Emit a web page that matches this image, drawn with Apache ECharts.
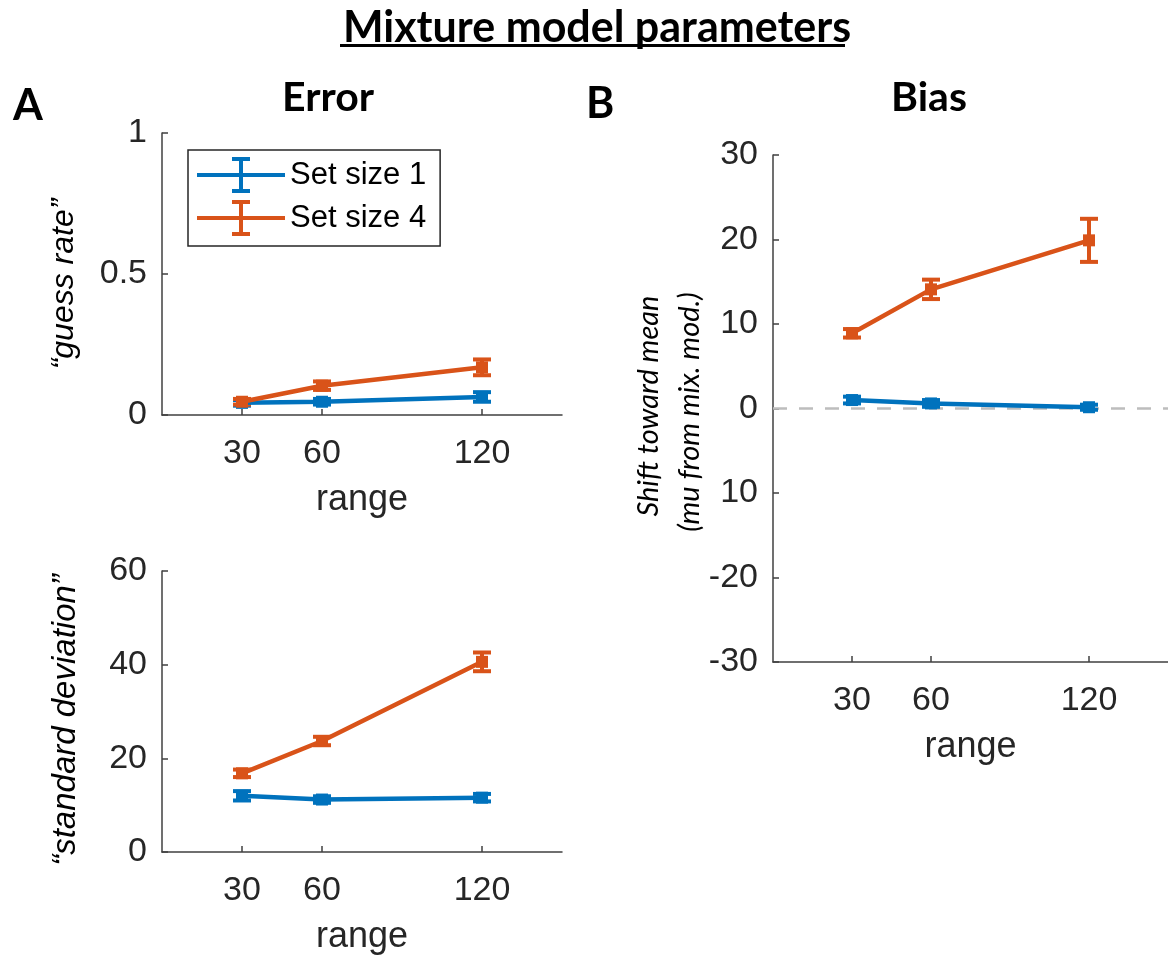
<!DOCTYPE html>
<html>
<head>
<meta charset="utf-8">
<script src="https://cdn.jsdelivr.net/npm/echarts@6/dist/echarts.min.js"></script>
<style>
html,body{margin:0;padding:0;background:#fff;}
#chart{width:1168px;height:960px;}
</style>
</head>
<body>
<div id="chart"></div>
<script>
// ---- data ----
const ranges = [30, 60, 120];
const seriesNames = ['Set size 1', 'Set size 4'];

const guessSS1 = [0.043, 0.047, 0.064];
const guessSS1Err = [0.010, 0.010, 0.017];
const guessSS4 = [0.047, 0.104, 0.169];
const guessSS4Err = [0.010, 0.015, 0.028];

const sdSS1 = [12.0, 11.2, 11.6];
const sdSS1Err = [1.0, 0.7, 0.8];
const sdSS4 = [16.8, 23.7, 40.6];
const sdSS4Err = [0.8, 0.9, 2.0];

const biasSS1 = [1.0, 0.6, 0.15];
const biasSS1Err = [0.4, 0.4, 0.3];
const biasSS4 = [8.9, 14.1, 19.9];
const biasSS4Err = [0.5, 1.15, 2.55];

const xTicks = [30, 60, 120];
const guessTicks = [0, 0.5, 1];
const guessTickLabels = ['0', '0.5', '1'];
const sdTicks = [0, 20, 40, 60];
const sdTickLabels = ['0', '20', '40', '60'];
const biasTicks = [-30, -20, -10, 0, 10, 20, 30];
const biasTickLabels = ['-30', '-20', '10', '0', '10', '20', '30'];

// ---- style ----
const BLUE = '#0072BD';
const ORANGE = '#D95319';
const AXIS = '#404040';
const TXT = '#262626';
const LAB_FONT = 'Liberation Sans';

const chart = echarts.init(document.getElementById('chart'));

function pts(vals) { return ranges.map((x, i) => [x, vals[i]]); }
function errs(vals, e) { return ranges.map((x, i) => [x, vals[i] - e[i], vals[i] + e[i]]); }

function renderErr(params, api) {
  const x = api.value(0), lo = api.value(1), hi = api.value(2);
  const a = api.coord([x, hi]), b = api.coord([x, lo]);
  const hw = 9;
  const st = { stroke: api.visual('color'), lineWidth: 4 };
  return { type: 'group', children: [
    { type: 'line', shape: { x1: a[0], y1: a[1], x2: b[0], y2: b[1] }, style: st },
    { type: 'line', shape: { x1: a[0] - hw, y1: a[1], x2: a[0] + hw, y2: a[1] }, style: st },
    { type: 'line', shape: { x1: b[0] - hw, y1: b[1], x2: b[0] + hw, y2: b[1] }, style: st }
  ]};
}

function xAxisFor(gi) {
  return {
    type: 'value', gridIndex: gi, min: 0, max: 150,
    name: 'range', nameLocation: 'middle', nameGap: 67,
    nameTextStyle: { fontFamily: LAB_FONT, fontSize: 36, color: TXT },
    axisLine: { show: true, onZero: false, lineStyle: { color: AXIS, width: 1.5 } },
    axisTick: { show: true, inside: true, length: 6, customValues: xTicks, lineStyle: { color: AXIS, width: 1.5 } },
    axisLabel: { customValues: xTicks, margin: 22, fontFamily: LAB_FONT, fontSize: 34, color: TXT },
    splitLine: { show: false }
  };
}
function yAxisFor(gi, min, max, interval, ticks, labels) {
  return {
    type: 'value', gridIndex: gi, min: min, max: max, interval: interval,
    axisLine: { show: true, onZero: false, lineStyle: { color: AXIS, width: 1.5 } },
    axisTick: { show: true, inside: true, length: 6, lineStyle: { color: AXIS, width: 1.5 } },
    axisLabel: { margin: 15, fontFamily: LAB_FONT, fontSize: 34, color: TXT,
      formatter: v => { const i = ticks.findIndex(t => Math.abs(t - v) < 1e-9); return i >= 0 ? labels[i] : ''; } },
    splitLine: { show: false }
  };
}

function lineSeries(name, gi, vals, color) {
  return {
    name: name, type: 'line', xAxisIndex: gi, yAxisIndex: gi, data: pts(vals),
    symbol: 'rect', symbolSize: 12, showSymbol: true,
    lineStyle: { color: color, width: 4.5 }, itemStyle: { color: color },
    z: 3, animation: false
  };
}
function errSeries(gi, vals, e, color) {
  return {
    name: 'err', type: 'custom', xAxisIndex: gi, yAxisIndex: gi, data: errs(vals, e),
    renderItem: renderErr, itemStyle: { color: color }, encode: { x: 0, y: [1, 2] },
    z: 3, animation: false, silent: true
  };
}

const ebIcon = 'path://M0,16H88V20H0Z M42,2H46V34H42Z M35,0H53V4H35Z M35,32H53V36H35Z';

const option = {
  backgroundColor: '#fff',
  animation: false,
  title: [
    { text: 'Mixture model parameters', left: 592, top: 2, textAlign: 'center',
      textStyle: { fontFamily: 'Lato', fontWeight: 'bold', fontSize: 43, color: '#000' } },
    { text: 'Error', left: 323, top: 72, textAlign: 'center',
      textStyle: { fontFamily: 'Lato', fontWeight: 'bold', fontSize: 41, color: '#000' } },
    { text: 'Bias', left: 924, top: 72, textAlign: 'center',
      textStyle: { fontFamily: 'Lato', fontWeight: 'bold', fontSize: 41, color: '#000' } },
    { text: 'A', left: 8, top: 80,
      textStyle: { fontFamily: 'Lato', fontWeight: 'bold', fontSize: 43, color: '#000' } },
    { text: 'B', left: 581, top: 78,
      textStyle: { fontFamily: 'Lato', fontWeight: 'bold', fontSize: 43, color: '#000' } }
  ],
  legend: {
    left: 188, top: 150, orient: 'vertical',
    data: seriesNames.map(n => ({ name: n, icon: ebIcon })),
    itemWidth: 88, itemHeight: 36, itemGap: 7, symbolKeepAspect: false,
    padding: [7, 14, 10, 9],
    borderColor: '#262626', borderWidth: 1.5, backgroundColor: '#fff',
    selectedMode: false,
    textStyle: { fontFamily: LAB_FONT, fontSize: 31, color: '#000' }
  },
  grid: [
    { left: 162, top: 133, width: 400, height: 282 },
    { left: 162, top: 571, width: 400, height: 281 },
    { left: 773, top: 155, width: 400, height: 507 }
  ],
  xAxis: [xAxisFor(0), xAxisFor(1), xAxisFor(2)],
  yAxis: [
    yAxisFor(0, 0, 1, 0.5, guessTicks, guessTickLabels),
    yAxisFor(1, 0, 60, 20, sdTicks, sdTickLabels),
    yAxisFor(2, -30, 30, 10, biasTicks, biasTickLabels)
  ],
  graphic: [
    { type: 'rect', shape: { x: 340, y: 44, width: 505, height: 3 }, style: { fill: '#000' } },
    { type: 'text', x: 64, y: 284, rotation: Math.PI / 2,
      style: { text: '\u201Cguess rate\u201D', fontFamily: LAB_FONT, fontStyle: 'italic', fontSize: 32, fill: '#000', align: 'center', verticalAlign: 'middle' } },
    { type: 'text', x: 66, y: 720, rotation: Math.PI / 2,
      style: { text: '\u201Cstandard deviation\u201D', fontFamily: LAB_FONT, fontStyle: 'italic', fontSize: 33, fill: '#000', align: 'center', verticalAlign: 'middle' } },
    { type: 'text', x: 649, y: 406, rotation: Math.PI / 2,
      style: { text: 'Shift toward mean', fontFamily: 'Lato', fontStyle: 'italic', fontSize: 29, fill: '#000', align: 'center', verticalAlign: 'middle' } },
    { type: 'text', x: 690, y: 412, rotation: Math.PI / 2,
      style: { text: '(mu from mix. mod.)', fontFamily: 'Lato', fontStyle: 'italic', fontSize: 29, fill: '#000', align: 'center', verticalAlign: 'middle' } }
  ],
  series: [
    errSeries(0, guessSS1, guessSS1Err, BLUE),
    lineSeries(seriesNames[0], 0, guessSS1, BLUE),
    errSeries(0, guessSS4, guessSS4Err, ORANGE),
    lineSeries(seriesNames[1], 0, guessSS4, ORANGE),

    errSeries(1, sdSS1, sdSS1Err, BLUE),
    lineSeries(seriesNames[0], 1, sdSS1, BLUE),
    errSeries(1, sdSS4, sdSS4Err, ORANGE),
    lineSeries(seriesNames[1], 1, sdSS4, ORANGE),

    errSeries(2, biasSS1, biasSS1Err, BLUE),
    Object.assign(lineSeries(seriesNames[0], 2, biasSS1, BLUE), {
      markLine: { silent: true, symbol: 'none', label: { show: false },
        lineStyle: { color: '#bdbdbd', type: [14, 12], width: 2.5 },
        emphasis: { disabled: true },
        data: [{ yAxis: 0 }], z: 1 }
    }),
    errSeries(2, biasSS4, biasSS4Err, ORANGE),
    lineSeries(seriesNames[1], 2, biasSS4, ORANGE)
  ]
};
chart.setOption(option);
</script>
</body>
</html>
